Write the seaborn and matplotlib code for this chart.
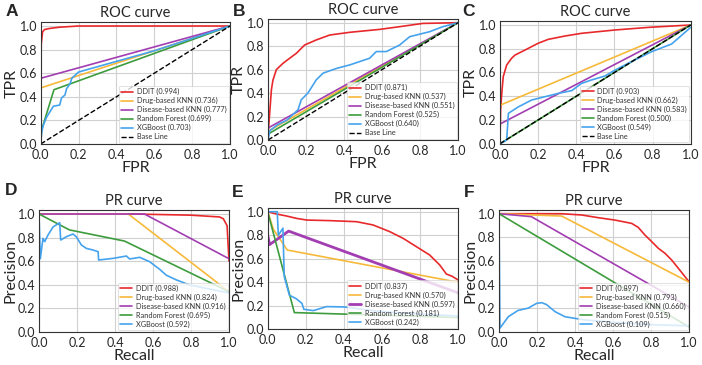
import matplotlib
matplotlib.use("Agg")
import matplotlib.pyplot as plt
import seaborn as sns

sns.set_theme(style="whitegrid")
plt.rcParams['font.family'] = ['Lato', 'DejaVu Sans']

# ---------- data ----------
models = ["DDIT", "Drug-based KNN", "Disease-based KNN", "Random Forest", "XGBoost"]
colors = ["#e8292c", "#f7b93a", "#a23db2", "#3d9c3d", "#45a3ee"]

auc_A = [0.994, 0.736, 0.777, 0.699, 0.703]
auc_B = [0.871, 0.537, 0.551, 0.525, 0.640]
auc_C = [0.903, 0.662, 0.583, 0.500, 0.549]
auc_D = [0.988, 0.824, 0.916, 0.695, 0.592]
auc_E = [0.837, 0.570, 0.597, 0.181, 0.242]
auc_F = [0.897, 0.793, 0.660, 0.515, 0.109]

# panel A (ROC)
A_ddit_x = [0, 0, 0.003, 0.01, 0.02, 0.05, 0.1, 0.2, 1.0]
A_ddit_y = [0, 0.6, 0.85, 0.95, 0.97, 0.98, 0.99, 1.0, 1.0]
A_drug_x = [0, 0, 1.0]
A_drug_y = [0, 0.475, 1.0]
A_dis_x = [0, 0, 1.0]
A_dis_y = [0, 0.557, 1.0]
A_rf_x = [0, 0.005, 0.07, 1.0]
A_rf_y = [0, 0.12, 0.46, 1.0]
A_xgb_x = [0, 0.005, 0.014, 0.032, 0.067, 0.10, 0.11, 0.128, 0.137, 0.155, 0.164, 0.2, 0.6, 1.0]
A_xgb_y = [0, 0.1, 0.16, 0.23, 0.32, 0.33, 0.39, 0.415, 0.47, 0.51, 0.556, 0.61, 0.79, 1.0]

# panel B (ROC)
B_ddit_x = [0, 0.003, 0.018, 0.026, 0.044, 0.079, 0.114, 0.149, 0.193, 0.254, 0.325, 0.43, 0.588, 0.71, 0.816, 1.0]
B_ddit_y = [0, 0.1, 0.43, 0.51, 0.6, 0.654, 0.697, 0.739, 0.81, 0.853, 0.895, 0.918, 0.943, 0.97, 0.994, 1.0]
B_drug_x = [0, 0, 1.0]
B_drug_y = [0, 0.074, 1.0]
B_dis_x = [0, 0, 1.0]
B_dis_y = [0, 0.102, 1.0]
B_rf_x = [0, 0, 1.0]
B_rf_y = [0, 0.05, 1.0]
B_xgb_x = [0, 0.01, 0.05, 0.1, 0.158, 0.175, 0.21, 0.254, 0.29, 0.36, 0.43, 0.535, 0.57, 0.623, 0.693, 0.746, 0.85, 0.92, 1.0]
B_xgb_y = [0, 0.08, 0.13, 0.17, 0.258, 0.343, 0.40, 0.513, 0.57, 0.61, 0.64, 0.697, 0.754, 0.754, 0.81, 0.881, 0.923, 0.966, 1.0]

# panel C (ROC)
C_ddit_x = [0, 0.003, 0.009, 0.017, 0.035, 0.061, 0.079, 0.131, 0.2, 0.253, 0.34, 0.428, 0.603, 0.778, 1.0]
C_ddit_y = [0, 0.28, 0.42, 0.565, 0.663, 0.72, 0.747, 0.789, 0.846, 0.879, 0.907, 0.93, 0.958, 0.98, 1.0]
C_drug_x = [0, 0, 1.0]
C_drug_y = [0, 0.324, 1.0]
C_dis_x = [0, 0, 1.0]
C_dis_y = [0, 0.166, 1.0]
C_rf_x = [0, 1.0]
C_rf_y = [0, 1.0]
C_xgb_x = [0, 0.035, 0.044, 0.096, 0.166, 0.236, 0.306, 0.376, 0.428, 0.48, 0.55, 0.603, 0.7, 0.795, 0.9, 1.0]
C_xgb_y = [0, 0.03, 0.256, 0.31, 0.368, 0.396, 0.424, 0.447, 0.508, 0.537, 0.57, 0.62, 0.7, 0.775, 0.84, 0.98]

# panel D (PR)
D_ddit_x = [0, 0.5, 0.8, 0.95, 0.97, 0.99, 1.0]
D_ddit_y = [1.0, 1.0, 0.99, 0.975, 0.96, 0.9, 0.6]
D_drug_x = [0, 0.47, 1.0]
D_drug_y = [1.0, 1.0, 0.34]
D_dis_x = [0, 0.555, 1.0]
D_dis_y = [1.0, 1.0, 0.62]
D_rf_x = [0, 0.16, 0.45, 1.0]
D_rf_y = [1.0, 0.865, 0.77, 0.34]
D_xgb_x = [0, 0.007, 0.021, 0.03, 0.047, 0.074, 0.109, 0.114, 0.144, 0.179, 0.196, 0.223, 0.249, 0.284,
           0.311, 0.314, 0.39, 0.46, 0.477, 0.53, 0.582, 0.635, 0.67, 0.723, 0.793, 0.88, 1.0]
D_xgb_y = [1.0, 0.62, 0.793, 0.765, 0.82, 0.89, 0.926, 0.779, 0.807, 0.83, 0.807, 0.737, 0.708, 0.694,
           0.68, 0.609, 0.623, 0.643, 0.618, 0.632, 0.595, 0.53, 0.48, 0.44, 0.397, 0.368, 0.33]

# panel E (PR)
E_ddit_x = [0, 0.03, 0.1, 0.152, 0.205, 0.327, 0.467, 0.554, 0.642, 0.712, 0.781, 0.851, 0.904, 0.939, 0.97, 1.0]
E_ddit_y = [1.0, 0.986, 0.963, 0.943, 0.929, 0.924, 0.915, 0.887, 0.83, 0.773, 0.703, 0.632, 0.547, 0.47, 0.45, 0.42]
E_drug_x = [0, 0.03, 0.103, 1.0]
E_drug_y = [1.0, 0.85, 0.674, 0.40]
E_dis_x = [0, 0.01, 0.11, 1.0]
E_dis_y = [0.8, 0.72, 0.835, 0.31]
E_rf_x = [0, 0.14, 1.0]
E_rf_y = [1.0, 0.142, 0.10]
E_xgb_x = [0, 0.05, 0.056, 0.08, 0.087, 0.114, 0.15, 0.18, 0.19, 0.24, 0.31, 0.4, 0.6, 0.8, 1.0]
E_xgb_y = [1.0, 1.0, 0.80, 0.86, 0.448, 0.29, 0.26, 0.22, 0.17, 0.159, 0.193, 0.19, 0.15, 0.13, 0.113]

# panel F (PR)
F_ddit_x = [0, 0.33, 0.435, 0.523, 0.61, 0.698, 0.733, 0.768, 0.804, 0.839, 0.874, 0.909, 0.944, 0.979, 1.0]
F_ddit_y = [1.0, 1.0, 0.989, 0.966, 0.946, 0.918, 0.884, 0.819, 0.763, 0.706, 0.664, 0.607, 0.537, 0.466, 0.424]
F_drug_x = [0, 0.33, 1.0]
F_drug_y = [1.0, 0.98, 0.42]
F_dis_x = [0, 0.17, 1.0]
F_dis_y = [1.0, 0.975, 0.21]
F_rf_x = [0, 1.0]
F_rf_y = [1.0, 0.04]
F_xgb_x = [0, 0.005, 0.049, 0.1, 0.154, 0.198, 0.225, 0.25, 0.295, 0.347, 0.45, 0.6, 0.8, 1.0]
F_xgb_y = [1.0, 0.03, 0.127, 0.18, 0.2, 0.24, 0.246, 0.23, 0.17, 0.127, 0.10, 0.08, 0.06, 0.05]

panels = [
    ("A", "ROC curve", "FPR", "TPR", auc_A,
     [(A_ddit_x, A_ddit_y), (A_drug_x, A_drug_y), (A_dis_x, A_dis_y), (A_rf_x, A_rf_y), (A_xgb_x, A_xgb_y)]),
    ("B", "ROC curve", "FPR", "TPR", auc_B,
     [(B_ddit_x, B_ddit_y), (B_drug_x, B_drug_y), (B_dis_x, B_dis_y), (B_rf_x, B_rf_y), (B_xgb_x, B_xgb_y)]),
    ("C", "ROC curve", "FPR", "TPR", auc_C,
     [(C_ddit_x, C_ddit_y), (C_drug_x, C_drug_y), (C_dis_x, C_dis_y), (C_rf_x, C_rf_y), (C_xgb_x, C_xgb_y)]),
    ("D", "PR curve", "Recall", "Precision", auc_D,
     [(D_ddit_x, D_ddit_y), (D_drug_x, D_drug_y), (D_dis_x, D_dis_y), (D_rf_x, D_rf_y), (D_xgb_x, D_xgb_y)]),
    ("E", "PR curve", "Recall", "Precision", auc_E,
     [(E_ddit_x, E_ddit_y), (E_drug_x, E_drug_y), (E_dis_x, E_dis_y), (E_rf_x, E_rf_y), (E_xgb_x, E_xgb_y)]),
    ("F", "PR curve", "Recall", "Precision", auc_F,
     [(F_ddit_x, F_ddit_y), (F_drug_x, F_drug_y), (F_dis_x, F_dis_y), (F_rf_x, F_rf_y), (F_xgb_x, F_xgb_y)]),
]

# axes boxes in pixels: left, right, y of 1.0 line, y of 0.0 line
boxes = [(40.7, 230, 26, 144), (268, 458, 22.7, 140), (500, 690.7, 25, 143.7),
         (39, 229, 214, 331.7), (267.7, 458, 211.7, 329.3), (499, 689, 213.7, 331.7)]
letter_pos = [(6, 4), (233, 4), (462, 4), (5, 183), (232, 185), (464, 185)]

W, H = 702, 365
YTOP = 1.03
fig = plt.figure(figsize=(W / 100, H / 100), dpi=100)

for (letter, title, xl, yl, aucs, curves), (x0, x1, y1, y0), (lx, ly) in zip(panels, boxes, letter_pos):
    top = y1 - (YTOP - 1.0) * (y0 - y1)
    ax = fig.add_axes([x0 / W, 1 - y0 / H, (x1 - x0) / W, (y0 - top) / H])
    for k, ((xs, ys), name, c, a) in enumerate(zip(curves, models, colors, aucs)):
        lw = 2.0 if (letter == "E" and k == 2) else 1.2
        sns.lineplot(x=xs, y=ys, ax=ax, color=c, lw=lw, sort=False, estimator=None,
                     label=f"{name} ({a:.3f})")
    if title.startswith("ROC"):
        sns.lineplot(x=[0, 1], y=[0, 1], ax=ax, color="black", lw=1.0, ls="--",
                     sort=False, estimator=None, label="Base Line")
    ax.set_xlim(0, 1.0)
    ax.set_ylim(0, YTOP)
    ticks = [0, 0.2, 0.4, 0.6, 0.8, 1.0]
    ax.set_xticks(ticks)
    ax.set_yticks(ticks)
    ax.set_xticklabels([f"{t:.1f}" for t in ticks], fontsize=9)
    ax.set_yticklabels([f"{t:.1f}" for t in ticks], fontsize=9)
    ax.tick_params(axis="x", pad=3.5, length=0)
    ax.tick_params(axis="y", pad=2.5, length=0)
    ax.set_title(title, fontsize=10.5, pad=4)
    ax.set_xlabel(xl, fontsize=11.5, labelpad=0)
    ax.set_ylabel(yl, fontsize=11.5, labelpad=0.5)
    ax.grid(True, color="#d0d0d0", lw=0.8)
    for s in ax.spines.values():
        s.set_color("#333333")
        s.set_linewidth(0.8)
    leg = ax.legend(loc="lower right", fontsize=5.3, frameon=True, borderaxespad=0.2,
                    handlelength=1.6, labelspacing=0.25, borderpad=0.3, handletextpad=0.5,
                    framealpha=0.8)
    leg.get_frame().set_edgecolor("#cccccc")
    leg.get_frame().set_linewidth(0.5)
    for t in leg.get_texts():
        t.set_color("#333333")
    fig.text(lx / W, 1 - ly / H, letter, fontsize=12.5, fontweight="bold",
             family="Liberation Sans", ha="left", va="top")

fig.savefig("out.png", dpi=100)
